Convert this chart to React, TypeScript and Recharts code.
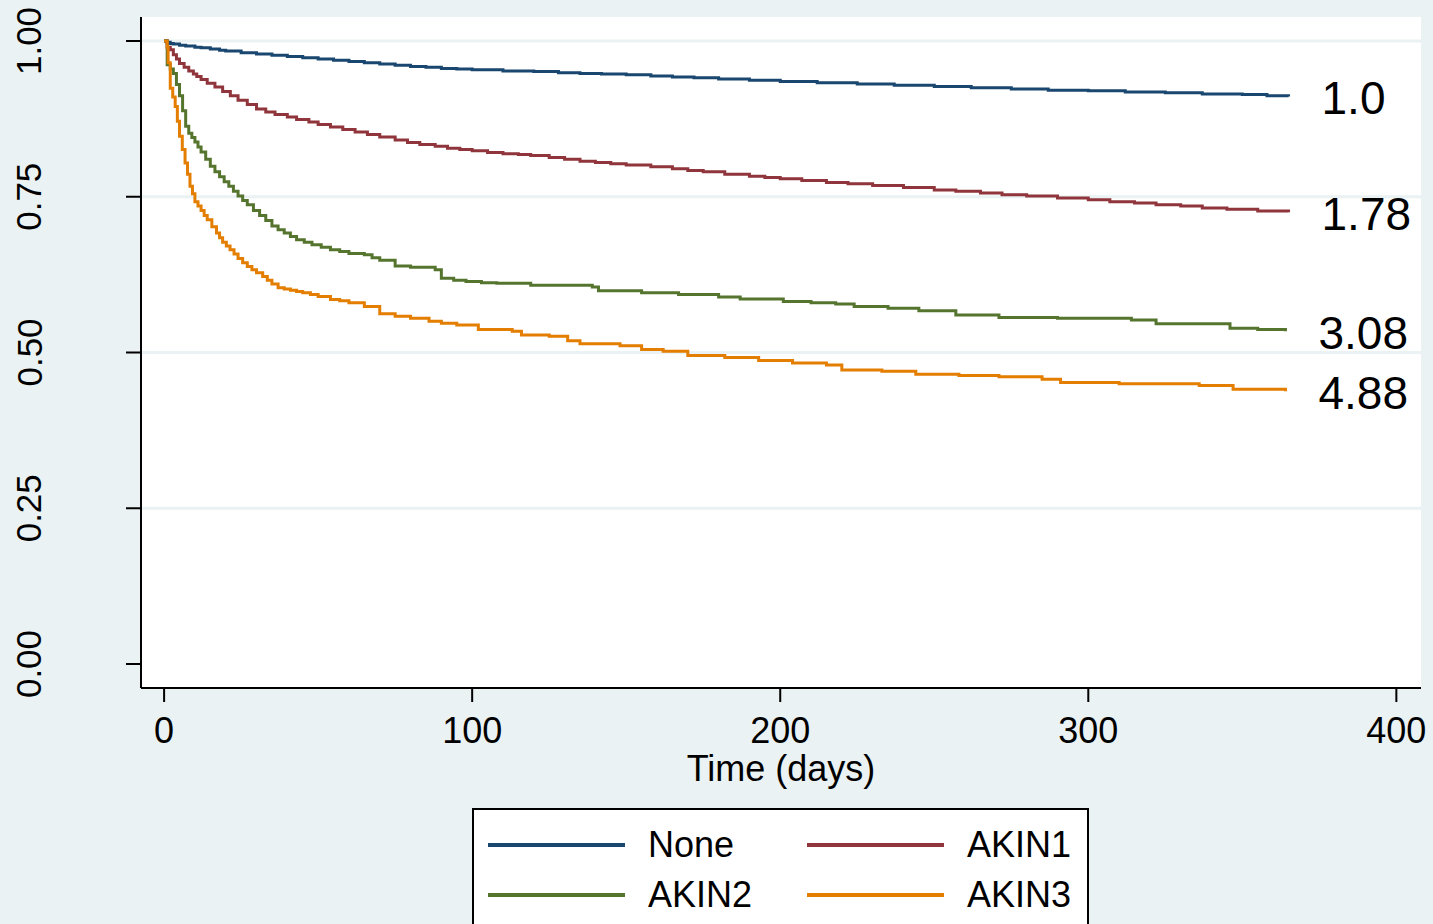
import React from 'react';
import { LineChart, Line, XAxis, YAxis, CartesianGrid, ReferenceLine, LabelList, Label } from 'recharts';

const seriesNames = ['None', 'AKIN1', 'AKIN2', 'AKIN3'];
const seriesColors = ['#1A476F', '#90353B', '#55752F', '#E37E00'];
const hrLabels = ['1.0', '1.78', '3.08', '4.88'];
const xTicks = [0, 100, 200, 300, 400];
const yTicks = [0, 0.25, 0.5, 0.75, 1];
const gridValues = [0.25, 0.5, 0.75, 1];

const noneT = [0, 1, 2, 3, 5, 7, 10, 12, 15, 18, 20, 25, 30, 35, 40, 45, 50, 55, 60, 65, 70, 75, 80, 85, 90, 95, 100, 110, 120, 128, 135, 142, 150, 158, 165, 172, 180, 190, 200, 212, 225, 237, 250, 262, 275, 287, 300, 312, 325, 337, 350, 358, 365];
const noneS = [1, 0.998, 0.996, 0.995, 0.993, 0.992, 0.99, 0.989, 0.987, 0.985, 0.984, 0.981, 0.979, 0.977, 0.975, 0.973, 0.971, 0.969, 0.967, 0.965, 0.963, 0.961, 0.959, 0.958, 0.956, 0.955, 0.954, 0.952, 0.951, 0.949, 0.948, 0.947, 0.946, 0.944, 0.942, 0.941, 0.939, 0.937, 0.935, 0.933, 0.931, 0.929, 0.927, 0.925, 0.923, 0.921, 0.92, 0.918, 0.917, 0.915, 0.914, 0.912, 0.911];

const akin1T = [0, 1, 2, 3, 4, 5, 6.5, 8, 9.5, 10.6, 12, 14, 16.5, 19, 21.5, 24, 27, 30, 33, 36, 40, 43, 47, 50, 54, 58, 62, 66, 70, 75, 79, 83, 88, 92, 96, 100, 105, 110, 115, 119, 125, 130, 135, 140, 145, 150, 158, 165, 170, 175, 182, 190, 195, 200, 207, 215, 222, 230, 240, 250, 257, 265, 272, 280, 290, 300, 307, 315, 322, 330, 337, 345, 355, 365];
const akin1S = [1, 0.99, 0.986, 0.978, 0.971, 0.964, 0.958, 0.952, 0.947, 0.943, 0.938, 0.932, 0.926, 0.919, 0.912, 0.905, 0.898, 0.891, 0.886, 0.882, 0.878, 0.874, 0.87, 0.866, 0.862, 0.858, 0.854, 0.85, 0.846, 0.841, 0.837, 0.834, 0.831, 0.828, 0.826, 0.824, 0.821, 0.819, 0.818, 0.816, 0.813, 0.81, 0.807, 0.805, 0.803, 0.801, 0.798, 0.795, 0.792, 0.79, 0.786, 0.783, 0.781, 0.779, 0.776, 0.773, 0.771, 0.768, 0.765, 0.761, 0.759, 0.756, 0.753, 0.751, 0.748, 0.745, 0.742, 0.74, 0.737, 0.735, 0.732, 0.73, 0.727, 0.725];

const akin2T = [0, 1, 2, 3, 4, 5, 6, 7, 8, 9, 10, 11, 12, 13.5, 15, 16.5, 18, 19.5, 21, 22.5, 24, 25.5, 27, 29, 31, 33, 35, 37, 39, 41, 43, 45.5, 48, 51, 54, 57, 60, 65, 67.5, 70, 75, 80, 88, 90, 94, 98, 103, 108, 119, 139, 141, 155, 167, 180, 187, 201, 210, 218, 224, 235, 245, 257, 271, 290, 314, 322, 346, 355, 364];
const akin2S = [1, 0.962, 0.955, 0.948, 0.93, 0.912, 0.888, 0.863, 0.852, 0.845, 0.838, 0.83, 0.822, 0.81, 0.799, 0.79, 0.782, 0.774, 0.767, 0.759, 0.751, 0.744, 0.737, 0.728, 0.72, 0.712, 0.703, 0.697, 0.692, 0.686, 0.681, 0.677, 0.673, 0.669, 0.665, 0.662, 0.659, 0.657, 0.652, 0.648, 0.639, 0.637, 0.633, 0.619, 0.616, 0.614, 0.612, 0.611, 0.608, 0.605, 0.599, 0.596, 0.593, 0.589, 0.586, 0.582, 0.58, 0.578, 0.574, 0.571, 0.567, 0.56, 0.556, 0.555, 0.552, 0.546, 0.539, 0.537, 0.534];

const akin3T = [0, 1, 1.3, 2, 2.8, 3.6, 4.3, 5, 5.9, 6.8, 7.6, 8.4, 9.2, 10, 11, 12, 13, 14, 15.5, 17, 18, 19, 20.2, 21.4, 22.7, 24, 25.5, 27, 28.5, 30, 32, 33.5, 35, 37, 39, 41, 43, 45, 47.5, 50, 54, 57, 60, 65, 70, 75, 80, 86, 90, 95, 102, 113, 116, 125, 131, 135, 148, 155, 162, 170, 182, 193, 204, 215, 220, 233, 244, 258, 271, 285, 291, 310, 336, 347, 364];
const akin3S = [1, 0.99, 0.965, 0.924, 0.91, 0.895, 0.871, 0.847, 0.826, 0.804, 0.786, 0.767, 0.755, 0.742, 0.735, 0.728, 0.72, 0.713, 0.702, 0.692, 0.684, 0.677, 0.671, 0.665, 0.658, 0.651, 0.644, 0.638, 0.633, 0.628, 0.622, 0.616, 0.61, 0.604, 0.602, 0.6, 0.598, 0.596, 0.593, 0.59, 0.585, 0.583, 0.58, 0.574, 0.562, 0.558, 0.555, 0.55, 0.547, 0.544, 0.537, 0.534, 0.528, 0.526, 0.519, 0.514, 0.511, 0.505, 0.502, 0.495, 0.492, 0.487, 0.483, 0.48, 0.472, 0.47, 0.465, 0.463, 0.461, 0.457, 0.452, 0.45, 0.447, 0.441, 0.438];

const times = [noneT, akin1T, akin2T, akin3T];
const survs = [noneS, akin1S, akin2S, akin3S];

const seriesData = times.map((ts, i) =>
  ts.map((t, j) => ({ t, s: survs[i][j], hr: j === ts.length - 1 ? hrLabels[i] : undefined }))
);

const FONT = '"Liberation Sans", Arial, Helvetica, sans-serif';

const YTick = (props: any) => {
  const { x, y, payload } = props;
  const cx = x - 95;
  return (
    <text x={cx} y={y} transform={`rotate(-90, ${cx}, ${y})`} textAnchor="middle" dominantBaseline="central" fontSize={35} fill="#000" fontFamily={FONT}>
      {payload.value.toFixed(2)}
    </text>
  );
};

const XTick = (props: any) => {
  const { x, y, payload } = props;
  return (
    <text x={x} y={y + 26} textAnchor="middle" dominantBaseline="central" fontSize={36} fill="#000" fontFamily={FONT}>
      {payload.value}
    </text>
  );
};

const HrLabel = (props: any) => {
  const { x, y, value } = props;
  if (value == null || value === '') return null;
  return (
    <text x={x + 33} y={y + 2} textAnchor="start" dominantBaseline="central" fontSize={46} fill="#000" fontFamily={FONT}>
      {value}
    </text>
  );
};

const XLabel = (props: any) => {
  const { viewBox } = props;
  const { x, y, width } = viewBox;
  return (
    <text x={x + width / 2} y={y + 80} textAnchor="middle" dominantBaseline="central" fontSize={36} fill="#000" fontFamily={FONT}>
      Time (days)
    </text>
  );
};

export default function App() {
  return (
    <div style={{ position: 'absolute', left: 0, top: 0, width: 1433, height: 924, background: '#EAF2F3', overflow: 'hidden', fontFamily: FONT }}>
      <LineChart width={1433} height={924} margin={{ top: 17, right: 12, left: 81, bottom: 141 }}>
        <CartesianGrid fill="#FFFFFF" fillOpacity={1} horizontal={false} vertical={false} stroke="none" />
        {gridValues.map((v) => (
          <ReferenceLine key={v} y={v} stroke="#EAF2F3" strokeWidth={3} />
        ))}
        <XAxis
          type="number"
          dataKey="t"
          domain={[-7.5, 408]}
          ticks={xTicks}
          allowDataOverflow
          height={95}
          tickSize={14}
          tickLine={{ stroke: '#000', strokeWidth: 2 }}
          axisLine={{ stroke: '#000', strokeWidth: 2 }}
          tick={<XTick />}
        >
          <Label content={<XLabel />} />
        </XAxis>
        <YAxis
          type="number"
          dataKey="s"
          domain={[-0.0385, 1.0385]}
          ticks={yTicks}
          allowDataOverflow
          width={60}
          tickSize={15}
          tickLine={{ stroke: '#000', strokeWidth: 2 }}
          axisLine={{ stroke: '#000', strokeWidth: 2 }}
          tick={<YTick />}
        />
        {seriesData.map((d, i) => (
          <Line
            key={seriesNames[i]}
            data={d}
            dataKey="s"
            name={seriesNames[i]}
            type="stepAfter"
            stroke={seriesColors[i]}
            strokeWidth={3}
            dot={false}
            isAnimationActive={false}
          >
            <LabelList dataKey="hr" content={<HrLabel />} />
          </Line>
        ))}
      </LineChart>
      <div
        style={{
          position: 'absolute',
          left: 472,
          top: 808,
          width: 613,
          height: 130,
          background: '#FFFFFF',
          border: '2px solid #000',
          boxSizing: 'content-box',
        }}
      >
        {seriesNames.map((n, i) => {
          const col = i % 2;
          const row = Math.floor(i / 2);
          return (
            <div key={n} style={{ position: 'absolute', left: 14 + col * 319, top: 10 + row * 50, height: 50, display: 'flex', alignItems: 'center' }}>
              <div style={{ width: 137, height: 4, background: seriesColors[i] }} />
              <span style={{ marginLeft: 23, fontSize: 36, color: '#000', fontFamily: FONT, lineHeight: '50px' }}>{n}</span>
            </div>
          );
        })}
      </div>
    </div>
  );
}
